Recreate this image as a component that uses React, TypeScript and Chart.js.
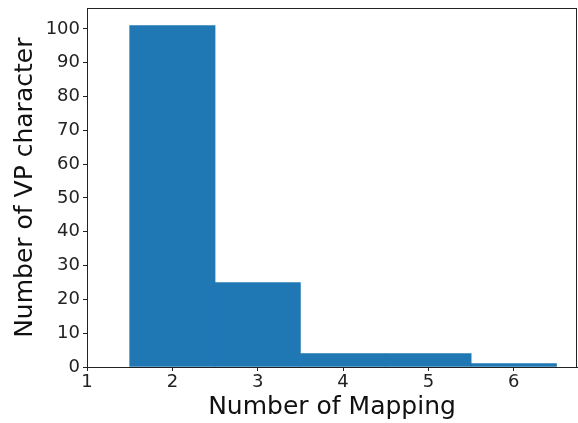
import React, { useEffect, useRef } from "react";
import { Chart, registerables } from "chart.js";

Chart.register(...registerables);

const binCenters = [2, 3, 4, 5, 6];
const counts = [101, 25, 4, 4, 1];
const xTicks = [1, 2, 3, 4, 5, 6];
const yTicks = [0, 10, 20, 30, 40, 50, 60, 70, 80, 90, 100];

const boxPlugin = {
  id: "box",
  afterDraw(chart: any) {
    const { ctx, chartArea } = chart;
    ctx.save();
    ctx.strokeStyle = "#222";
    ctx.lineWidth = 1;
    ctx.strokeRect(
      Math.round(chartArea.left) + 0.5,
      Math.round(chartArea.top) + 0.5,
      Math.round(chartArea.right - chartArea.left) - 1,
      Math.round(chartArea.bottom - chartArea.top)
    );
    ctx.restore();
  },
};

export default function App() {
  const ref = useRef<HTMLCanvasElement>(null);
  useEffect(() => {
    document.body.style.margin = "0";
    const font = "'DejaVu Sans', sans-serif";
    const chart = new Chart(ref.current!, {
      type: "bar",
      data: {
        datasets: [
          {
            data: binCenters.map((x, i) => ({ x, y: counts[i] })),
            backgroundColor: "#1f77b4",
            borderWidth: 0,
            barPercentage: 1,
            categoryPercentage: 1,
          },
        ],
      },
      options: {
        animation: false,
        responsive: false,
        maintainAspectRatio: false,
        layout: { padding: { top: 0, right: 1, left: 10, bottom: 0 } },
        plugins: { legend: { display: false }, tooltip: { enabled: false } },
        scales: {
          x: {
            type: "linear",
            min: 1,
            max: 6.74,
            offset: false,
            afterBuildTicks: (s: any) => {
              s.ticks = xTicks.map((v) => ({ value: v }));
            },
            afterFit: (s: any) => {
              s.height = 56;
            },
            grid: { offset: false, drawOnChartArea: false, drawTicks: true, tickLength: 4, color: "#222" },
            border: { display: true, color: "#222" },
            ticks: { color: "#222", font: { family: font, size: 18 }, padding: 1, maxRotation: 0 },
            title: {
              display: true,
              text: "Number of Mapping",
              color: "#111",
              font: { family: font, size: 25 },
              padding: { top: 0, bottom: 1 },
            },
          },
          y: {
            type: "linear",
            min: 0,
            max: 106.05,
            afterBuildTicks: (s: any) => {
              s.ticks = yTicks.map((v) => ({ value: v }));
            },
            afterFit: (s: any) => {
              s.width = 77;
            },
            grid: { drawOnChartArea: false, drawTicks: true, tickLength: 4, color: "#222" },
            border: { display: true, color: "#222" },
            ticks: { color: "#222", font: { family: font, size: 18, lineHeight: 0.6 }, padding: 3 },
            title: {
              display: true,
              text: "Number of VP character",
              color: "#111",
              font: { family: font, size: 25 },
              padding: { top: 0, bottom: 0 },
            },
          },
        },
      },
      plugins: [boxPlugin],
    });
    return () => chart.destroy();
  }, []);
  return (
    <div style={{ width: 578, height: 423 }}>
      <canvas ref={ref} width={578} height={423} style={{ width: 578, height: 423 }} />
    </div>
  );
}
